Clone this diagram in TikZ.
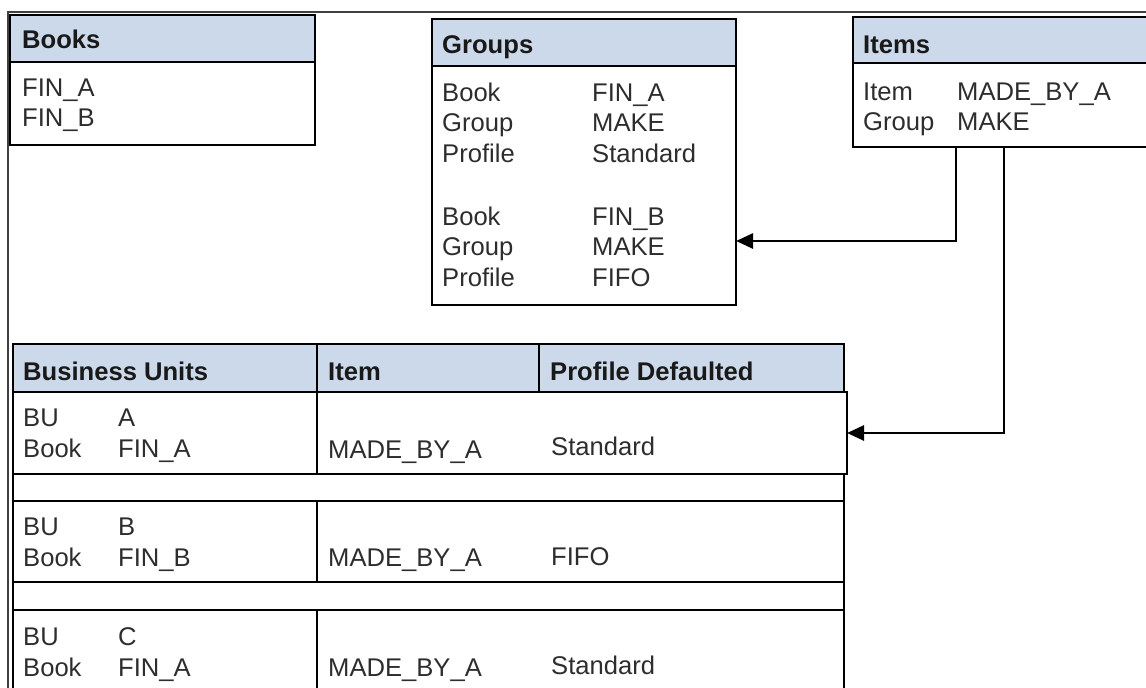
\documentclass[tikz,border=0pt]{standalone}
\usepackage{fontspec}
\setmainfont{Liberation Sans}
\usetikzlibrary{arrows.meta}
\definecolor{hdr}{RGB}{204,217,234}
\definecolor{txt}{RGB}{45,45,45}
\tikzset{
  box/.style={draw=black, line width=2.6pt, rectangle, anchor=north west, inner sep=0pt, outer sep=0pt},
  hbox/.style={box, fill=hdr},
  lbl/.style={anchor=base west, inner sep=0pt, text=txt, font=\fontsize{25.6}{30}\selectfont},
  hlbl/.style={anchor=base west, inner sep=0pt, text=black!90, font=\fontsize{25.6}{30}\selectfont\bfseries},
  conn/.style={draw=black, line width=2.6pt, -{Triangle[length=17pt,width=15pt]}},
  gapline/.style={draw=black, line width=2.6pt},
  frame/.style={draw=black!75, line width=1.5pt}
}
\begin{document}
\begin{tikzpicture}[x=1pt,y=-1pt]
\useasboundingbox (0,0) rectangle (1146,688);
\clip (0,0) rectangle (1146,688);
% outer frame
\draw[frame] (8,700) -- (8,12) -- (1160,12);

% Books
\node[hbox, minimum width=305pt, minimum height=47pt] (bookshd) at (10,15) {};
\node[box, minimum width=305pt, minimum height=83pt] (books) at (10,62) {};
\node[hlbl] (tbooks) at (22,48) {Books};
\node[lbl] (bk1) at (22,96) {FIN\_A};
\node[lbl] (bk2) at (22,126) {FIN\_B};

% Groups
\node[hbox, minimum width=304pt, minimum height=47pt] (groupshd) at (432,19) {};
\node[box, minimum width=304pt, minimum height=239pt] (groups) at (432,66) {};
\node[hlbl] (tgroups) at (442,53) {Groups};
\node[lbl] (g1a) at (442,101) {Book};    \node[lbl] (g1b) at (592,101) {FIN\_A};
\node[lbl] (g2a) at (442,131.5) {Group}; \node[lbl] (g2b) at (592,131.5) {MAKE};
\node[lbl] (g3a) at (442,162) {Profile}; \node[lbl] (g3b) at (592,162) {Standard};
\node[lbl] (g4a) at (442,225) {Book};    \node[lbl] (g4b) at (592,225) {FIN\_B};
\node[lbl] (g5a) at (442,255.5) {Group}; \node[lbl] (g5b) at (592,255.5) {MAKE};
\node[lbl] (g6a) at (442,286) {Profile}; \node[lbl] (g6b) at (592,286) {FIFO};

% Items
\node[hbox, minimum width=320pt, minimum height=46pt] (itemshd) at (853,17) {};
\node[box, minimum width=320pt, minimum height=84pt] (items) at (853,63) {};
\node[hlbl] (titems) at (863,53) {Items};
\node[lbl] (i1a) at (863,100) {Item};  \node[lbl] (i1b) at (957,100) {MADE\_BY\_A};
\node[lbl] (i2a) at (863,130) {Group}; \node[lbl] (i2b) at (957,130) {MAKE};

% Business units table header
\node[hbox, minimum width=304pt, minimum height=48pt] (h1) at (13,344) {};
\node[hbox, minimum width=222pt, minimum height=48pt] (h2) at (317,344) {};
\node[hbox, minimum width=305pt, minimum height=48pt] (h3) at (539,344) {};
\node[hlbl] (th1) at (23,380) {Business Units};
\node[hlbl] (th2) at (328,380) {Item};
\node[hlbl] (th3) at (550,380) {Profile Defaulted};

% rows
\node[box, minimum width=304pt, minimum height=82pt] (r1a) at (13,392) {};
\node[box, minimum width=530pt, minimum height=82pt] (r1b) at (317,392) {};
\node[box, minimum width=304pt, minimum height=81pt] (r2a) at (13,501) {};
\node[box, minimum width=527pt, minimum height=81pt] (r2b) at (317,501) {};
\node[box, minimum width=304pt, minimum height=100pt] (r3a) at (13,610) {};
\node[box, minimum width=527pt, minimum height=100pt] (r3b) at (317,610) {};
\draw[gapline] (r1a.south west) -- (r2a.north west);
\draw[gapline] (r2b.north east |- r1b.south) -- (r2b.north east);
\draw[gapline] (r2a.south west) -- (r3a.north west);
\draw[gapline] (r2b.south east) -- (r3b.north east);

\node[lbl] (r1t1) at (23,426) {BU};   \node[lbl] (r1t2) at (118,426) {A};
\node[lbl] (r1t3) at (23,457) {Book}; \node[lbl] (r1t4) at (118,457) {FIN\_A};
\node[lbl] (r1t5) at (328,458) {MADE\_BY\_A};
\node[lbl] (r1t6) at (551,455) {Standard};

\node[lbl] (r2t1) at (23,535) {BU};   \node[lbl] (r2t2) at (118,535) {B};
\node[lbl] (r2t3) at (23,566) {Book}; \node[lbl] (r2t4) at (118,566) {FIN\_B};
\node[lbl] (r2t5) at (328,566) {MADE\_BY\_A};
\node[lbl] (r2t6) at (551,565) {FIFO};

\node[lbl] (r3t1) at (23,645) {BU};   \node[lbl] (r3t2) at (118,645) {C};
\node[lbl] (r3t3) at (23,676) {Book}; \node[lbl] (r3t4) at (118,676) {FIN\_A};
\node[lbl] (r3t5) at (328,676) {MADE\_BY\_A};
\node[lbl] (r3t6) at (551,674) {Standard};

% connectors
\draw[conn] ([xshift=103pt]items.south west) |- ([yshift=-55.5pt]groups.east);
\draw[conn] ([xshift=151pt]items.south west) |- (r1b.east);
\end{tikzpicture}
\end{document}
